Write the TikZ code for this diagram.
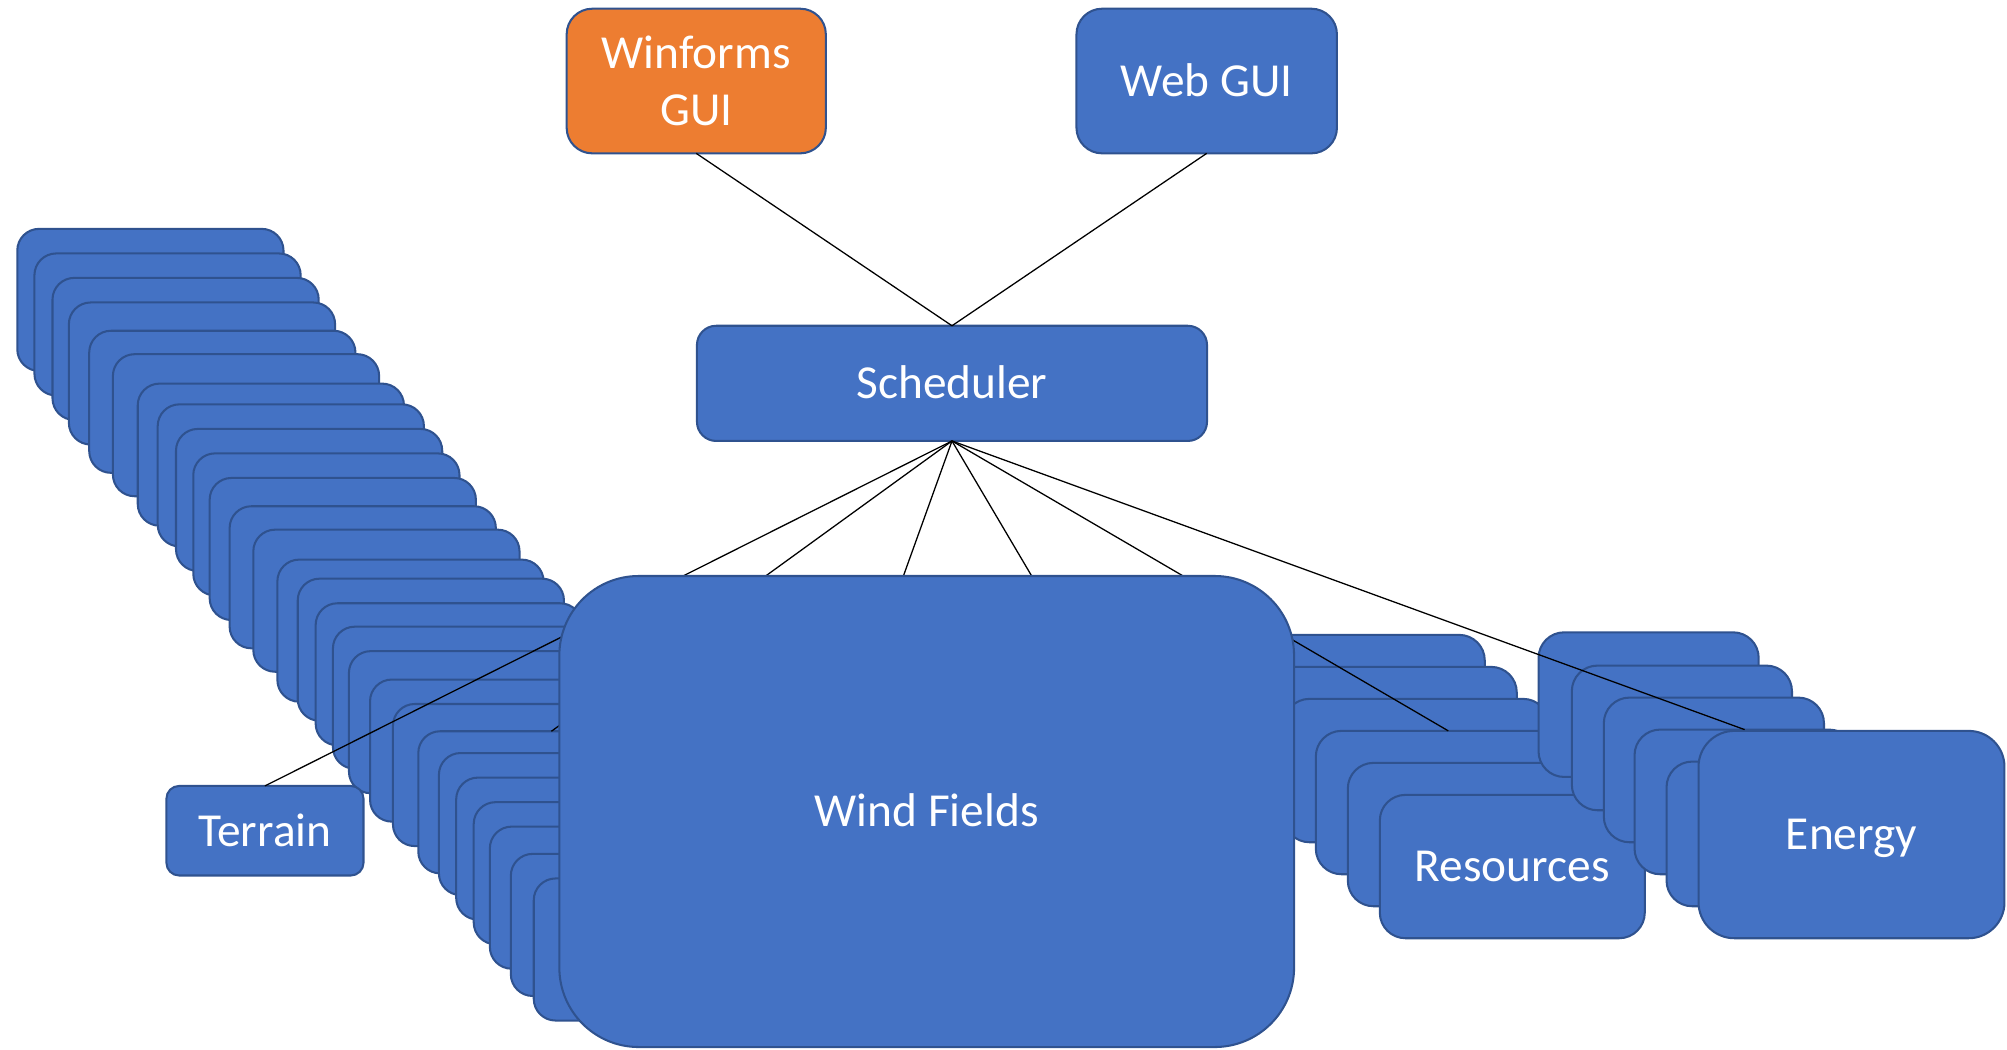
\documentclass[tikz,border=0pt]{standalone}
\usepackage{fontspec}
\setmainfont{Carlito}
\definecolor{boxblue}{HTML}{4472C4}
\definecolor{boxedge}{HTML}{2F528F}
\definecolor{boxorange}{HTML}{ED7D31}
\begin{document}
\begin{tikzpicture}[x=1pt,y=-1pt,
  box/.style={draw=boxedge, fill=boxblue, line width=1.6pt, text=white,
    inner sep=0pt, outer sep=0pt, anchor=north west,
    font=\fontsize{37pt}{45pt}\selectfont, align=center},
  oneline/.style={text height=25.6pt, text depth=1.6pt},
  stackbox/.style={box, rounded corners=17pt, minimum width=208pt, minimum height=111pt},
  resbox/.style={box, oneline, rounded corners=20pt, minimum width=207pt, minimum height=112pt},
  enbox/.style={box, rounded corners=20pt, minimum width=172pt, minimum height=113pt},
  wire/.style={draw=black, line width=1pt}]
\useasboundingbox (0,0) rectangle (1568,820.3);
% left stack
\foreach \x/\y [count=\i] in {13.5/178.8,26.9/198.0,41.0/217.1,53.8/236.3,69.7/258.4,88.2/276.7,107.6/299.7,123.2/315.9,137.5/335.1,151.0/354.2,163.8/373.4,179.4/395.5,197.9/413.8,216.7/437.2,232.6/452.1,246.6/471.3,260.1/489.6,272.6/508.7,289.1/530.9,307.0/550.0,326.8/571.3,342.9/588.3,356.4/607.5,370.1/626.7,382.7/645.8,399.1/667.1,417.0/686.3}
  \node[stackbox] (L\i) at (\x,\y) {};
% resources stack
\foreach \k in {1,...,5}
  \node[resbox] (R\k) at ({953+25*(\k-1)},{496+25*(\k-1)}) {};
\node[resbox] (R6) at (1078,621) {Resources};
% energy stack
\foreach \x/\y [count=\i] in {1202/494,1228/520,1253/545,1277/570,1302/595}
  \node[enbox] (E\i) at (\x,\y) {};
\node[box, oneline, rounded corners=28pt, minimum width=239pt, minimum height=162pt] (E6) at (1327,571) {Energy};
% top nodes
\node[box, oneline, rounded corners=15pt, minimum width=398.5pt, minimum height=90pt] (sched) at (544.5,254.5) {Scheduler};
\node[box, fill=boxorange, rounded corners=20pt, minimum width=202.5pt, minimum height=113pt] (winf) at (442.7,6.8) {Winforms\\GUI};
\node[box, oneline, rounded corners=20pt, minimum width=203.5pt, minimum height=113pt] (web) at (841,6.8) {Web GUI};
% hidden ends behind Wind Fields
\coordinate (h1) at (668,555);
\coordinate (h2) at (868,555);
% connectors
\draw[wire] (winf.south) -- (sched.north);
\draw[wire] (web.south) -- (sched.north);
\node[box, oneline, rounded corners=10pt, minimum width=154pt, minimum height=70pt] (terrain) at (130,614) {Terrain};
\draw[wire] (sched.south) -- (terrain.north);
\draw[wire] (sched.south) -- (L21.north);
\draw[wire] (sched.south) -- (h1);
\draw[wire] (sched.south) -- (h2);
\draw[wire] (sched.south) -- (R4.north);
\draw[wire] (sched.south) -- (E4.north);
% wind fields on top
\node[box, oneline, rounded corners=62pt, minimum width=574pt, minimum height=368pt] (wind) at (437,450) {Wind Fields};
\end{tikzpicture}
\end{document}
